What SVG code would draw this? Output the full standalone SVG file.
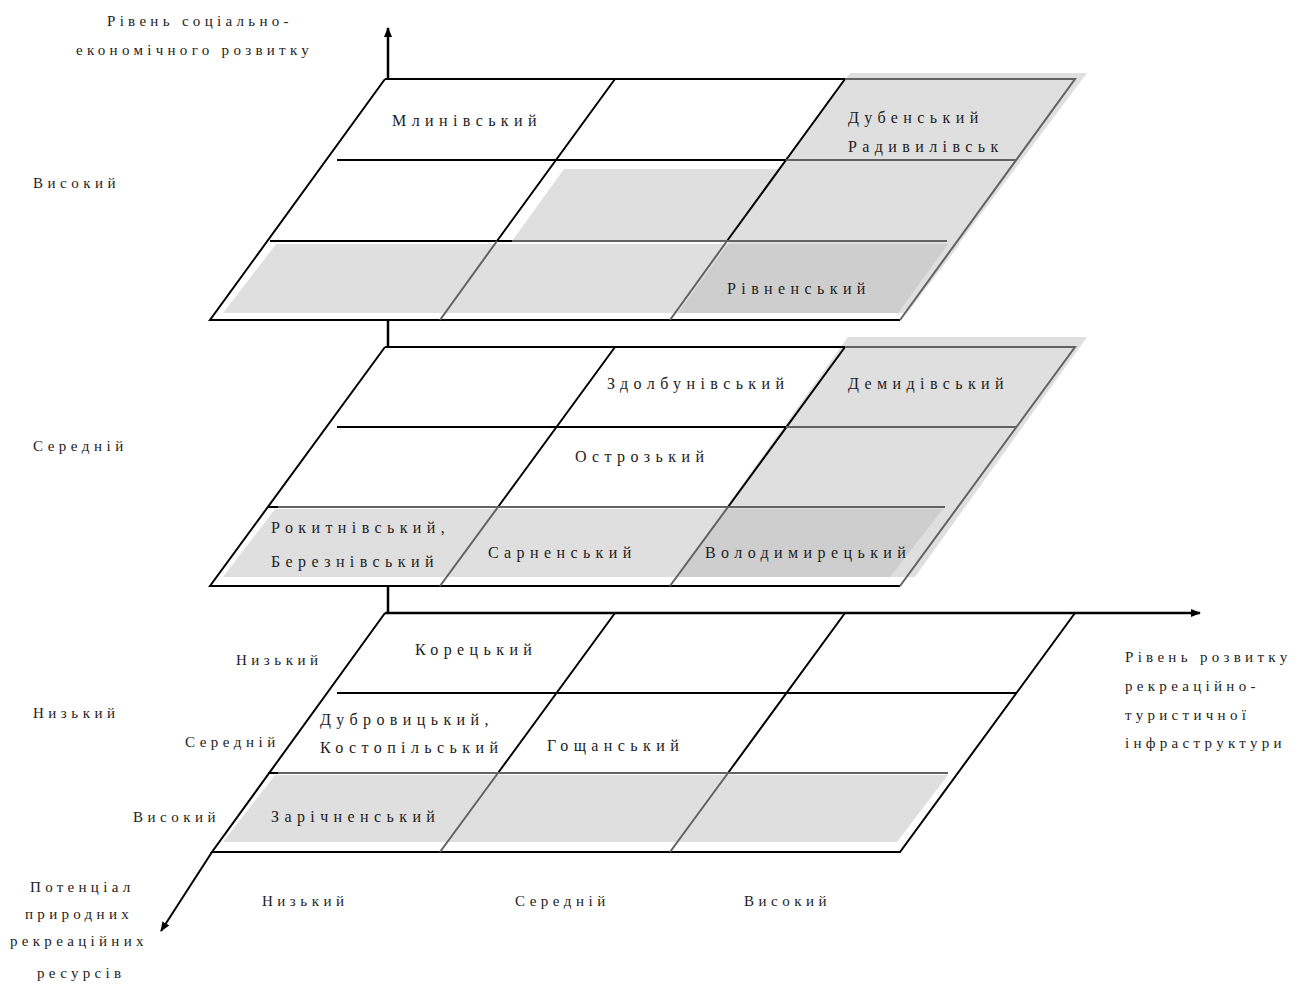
<svg xmlns="http://www.w3.org/2000/svg" width="1304" height="985" viewBox="0 0 1304 985">
<defs>
<marker id="arr" viewBox="0 0 10 10" refX="9" refY="5" markerWidth="10" markerHeight="10" markerUnits="userSpaceOnUse" orient="auto">
<path d="M0,1 L10,5 L0,9 Z" fill="#000"/>
</marker>
<style>
text{font-family:"Liberation Serif","Times New Roman",serif;font-size:15px;letter-spacing:4.3px;fill:#222}
.lv{letter-spacing:4.5px}
.ds{font-size:16px;letter-spacing:5.4px}
.bk{stroke:#000;stroke-width:2;fill:none}
.gr{stroke:#626262;stroke-width:2;fill:none}
.lt{fill:#dfdfdf}
.dk{fill:#cecece}
.ax{stroke:#000;stroke-width:2.5;fill:none}
</style>
</defs>
<rect width="1304" height="985" fill="#fff"/>

<g id="plane-top">
<polygon class="lt" points="850,73 1087,73 907,313 678,313"/>
<polygon class="lt" points="564,169 790,169 737,241 512,241"/>
<polygon class="lt" points="276,244 960,244 907,313 223,313"/>
<polygon class="dk" points="728,244 948,244 898,313 678,313"/>
<path class="bk" d="M385,79 H845 M385,79 L210,320 H900 M337,160 H786 M270,241 H512 M615,79 L497,241 M845,79 L727,241"/>
<path class="gr" d="M845,79 H1075 L900,320 M786,160 H1016 M512,241 H947 M497,241 L440,320 M727,241 L670,320"/>
</g>

<g id="plane-middle">
<polygon class="lt" points="848,337 1087,337 915,577 676,577"/>
<polygon class="lt" points="275,509 958,509 908,577 223,577"/>
<polygon class="dk" points="727,509 943,509 890,577 678,577"/>
<path class="bk" d="M385,347 H845 M385,347 L210,586 H900 M337,427 H786 M268,507 H278 M615,347 L498,507 M845,347 L728,507"/>
<path class="gr" d="M845,347 H1075 L900,586 M786,427 H1016 M278,507 H945 M498,507 L440,586 M728,507 L670,586"/>
</g>

<g id="plane-bottom">
<polygon class="lt" points="275,775 948,775 897,842 223,842"/>
<path class="bk" d="M385,613 L212,852 H900 L1075,613 M337,693 H1016 M268,773 H278 M615,613 L498,773 M845,613 L728,773"/>
<path class="gr" d="M278,773 H948 M498,773 L440,852 M728,773 L670,852"/>
</g>

<g id="connectors">
<line class="ax" x1="388" y1="79" x2="388" y2="28" marker-end="url(#arr)"/>
<line class="ax" x1="388" y1="320" x2="388" y2="347"/>
<line class="ax" x1="388" y1="586" x2="388" y2="613"/>
<line class="ax" x1="385" y1="613" x2="1200" y2="613" marker-end="url(#arr)"/>
<line class="bk" x1="212" y1="852" x2="161" y2="931" marker-end="url(#arr)"/>
</g>

<g id="axis-labels">
<text x="107" y="26">Рівень соціально-</text>
<text x="76" y="55">економічного розвитку</text>
<text x="1125" y="662">Рівень розвитку</text>
<text x="1125" y="691">рекреаційно-</text>
<text x="1125" y="720">туристичної</text>
<text x="1125" y="748">інфраструктури</text>
<text x="30" y="892">Потенціал</text>
<text x="25" y="919">природних</text>
<text x="10" y="946">рекреаційних</text>
<text x="37" y="978">ресурсів</text>
</g>

<g id="level-labels" class="lv">
<text class="lv" x="33" y="188">Високий</text>
<text class="lv" x="33" y="451">Середній</text>
<text class="lv" x="33" y="718">Низький</text>
<text class="lv" x="236" y="665">Низький</text>
<text class="lv" x="185" y="747">Середній</text>
<text class="lv" x="133" y="822">Високий</text>
<text class="lv" x="262" y="906">Низький</text>
<text class="lv" x="515" y="906">Середній</text>
<text class="lv" x="744" y="906">Високий</text>
</g>

<g id="districts">
<text class="ds" x="392" y="126">Млинівський</text>
<text class="ds" x="848" y="123">Дубенський</text>
<text class="ds" x="848" y="152">Радивилівськ</text>
<text class="ds" x="727" y="294">Рівненський</text>
<text class="ds" x="607" y="389">Здолбунівський</text>
<text class="ds" x="848" y="389">Демидівський</text>
<text class="ds" x="575" y="462">Острозький</text>
<text class="ds" x="271" y="533">Рокитнівський,</text>
<text class="ds" x="271" y="567">Березнівський</text>
<text class="ds" x="488" y="558">Сарненський</text>
<text class="ds" x="705" y="558">Володимирецький</text>
<text class="ds" x="415" y="655">Корецький</text>
<text class="ds" x="320" y="725">Дубровицький,</text>
<text class="ds" x="320" y="753">Костопільський</text>
<text class="ds" x="547" y="751">Гощанський</text>
<text class="ds" x="271" y="822">Зарічненський</text>
</g>
</svg>
